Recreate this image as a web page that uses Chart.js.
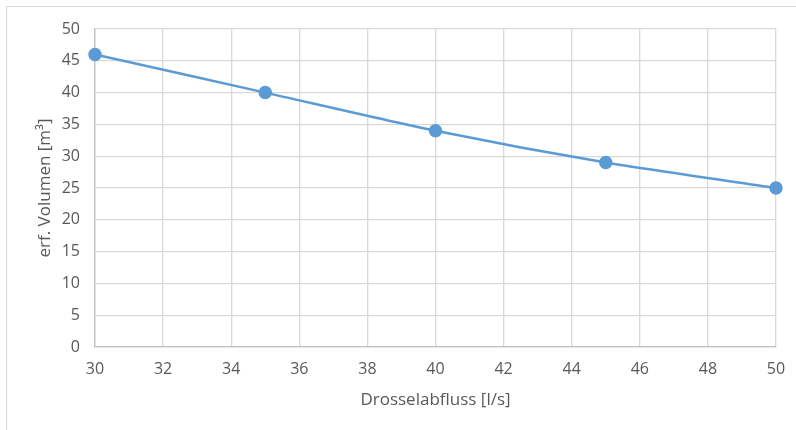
<!DOCTYPE html>
<html>
<head>
<meta charset="utf-8">
<script src="https://cdn.jsdelivr.net/npm/chart.js@4/dist/chart.umd.min.js"></script>
<style>
  html, body { margin: 0; padding: 0; background: #fff; overflow: hidden; }
  #frame { position: absolute; left: 6px; top: 6px; width: 820px; height: 460px; border: 1px solid #d9d9d9; }
  #wrap { position: absolute; left: 0; top: 0; width: 796px; height: 430px; }
</style>
</head>
<body>
<div id="frame"></div>
<div id="wrap"><canvas id="chart"></canvas></div>
<script>
// Werte
const drosselabfluss = [30, 35, 40, 45, 50];
const volumen = [46, 40, 34, 29, 25];

const textColor = '#595959';
const gridColor = '#d9d9d9';
const fontFam = '"Open Sans", "Liberation Sans", sans-serif';

const ctx = document.getElementById('chart').getContext('2d');
new Chart(ctx, {
    type: 'line',
    data: {
        datasets: [{
            data: drosselabfluss.map((x, i) => ({ x: x, y: volumen[i] })),
            borderColor: '#5b9bd5',
            backgroundColor: '#5b9bd5',
            borderWidth: 2.5,
            pointRadius: 5.5,
            pointHoverRadius: 5.5,
            tension: 0.25,
            clip: false
        }]
    },
    options: {
        responsive: true,
        maintainAspectRatio: false,
        animation: false,
        layout: { padding: { left: 0, right: 20, top: 29, bottom: 0 } },
        plugins: { legend: { display: false }, tooltip: { enabled: false } },
        scales: {
            x: {
                type: 'linear',
                min: 30,
                max: 50,
                ticks: { stepSize: 2, color: textColor, font: { family: fontFam, size: 16 }, padding: 13 },
                grid: { color: gridColor, lineWidth: 1.3, drawTicks: false },
                border: { color: '#bfbfbf', width: 1.3 },
                title: {
                    display: true,
                    text: 'Drosselabfluss [l/s]',
                    color: textColor,
                    font: { family: fontFam, size: 17 },
                    padding: { top: 0, bottom: 20 }
                },
                afterFit: function(scale) {
                    scale.height = 83;
                    scale.paddingRight = 0;
                }
            },
            y: {
                min: 0,
                max: 50,
                ticks: { stepSize: 5, color: textColor, font: { family: fontFam, size: 16 }, padding: 15 },
                grid: { color: gridColor, lineWidth: 1.3, drawTicks: false },
                border: { color: '#bfbfbf', width: 1.3 },
                title: {
                    display: true,
                    text: 'erf. Volumen [m³]',
                    color: textColor,
                    font: { family: fontFam, size: 17 },
                    padding: { top: 35, bottom: 0 }
                },
                afterFit: function(scale) { scale.width = 95; }
            }
        }
    }
});
</script>
</body>
</html>
